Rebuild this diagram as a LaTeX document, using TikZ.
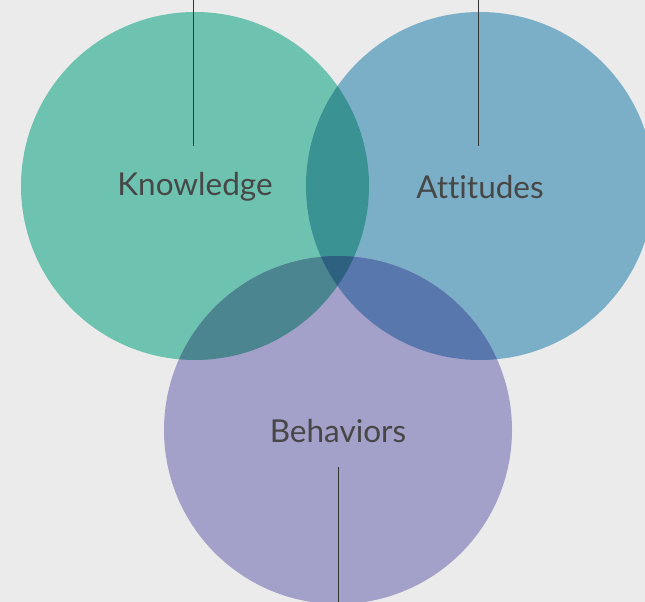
\documentclass[tikz,border=0pt]{standalone}
\usepackage{fontspec}
\setmainfont{Lato}[Ligatures=NoCommon]
\definecolor{bgc}{HTML}{EBEBEB}
\definecolor{know}{HTML}{6DC3B0}
\definecolor{att}{HTML}{7BAFC8}
\definecolor{beh}{HTML}{A3A0C9}
\definecolor{ka}{HTML}{3A9292}
\definecolor{kb}{HTML}{4A8590}
\definecolor{ab}{HTML}{5777AD}
\definecolor{kab}{HTML}{2E6180}
\definecolor{txt}{HTML}{474747}
\definecolor{lead}{HTML}{333333}
\begin{document}
\begin{tikzpicture}[x=1pt,y=-1pt,
  label/.style={text=txt,font=\fontsize{31.5}{36}\selectfont},
  leader/.style={draw=lead,line width=1pt}]
\useasboundingbox (0,0) rectangle (645,602);
\fill[bgc] (0,0) rectangle (645,602);
% the three sets
\def\R{174}
\coordinate (K) at (195,186);
\coordinate (A) at (480,186);
\coordinate (B) at (338,430);
\begin{scope}
\clip (0,0) rectangle (645,602);
\fill[know] (K) circle[radius=\R];
\fill[att] (A) circle[radius=\R];
\fill[beh] (B) circle[radius=\R];
% pairwise overlaps
\begin{scope}\clip (K) circle[radius=\R]; \fill[ka] (A) circle[radius=\R];\end{scope}
\begin{scope}\clip (K) circle[radius=\R]; \fill[kb] (B) circle[radius=\R];\end{scope}
\begin{scope}\clip (A) circle[radius=\R]; \fill[ab] (B) circle[radius=\R];\end{scope}
% common region
\begin{scope}\clip (K) circle[radius=\R]; \clip (A) circle[radius=\R]; \fill[kab] (B) circle[radius=\R];\end{scope}
\end{scope}
% labels
\node[label] (kn) at (195,187) {Knowledge};
\node[label] (at) at (480,187) {Attitudes};
\node[label] (be) at (338,431) {Behaviors};
% leader lines
\coordinate (k0) at (193,0);   \coordinate (k1) at (193,146);
\coordinate (a0) at (478,0);   \coordinate (a1) at (478,146);
\coordinate (b0) at (338,467); \coordinate (b1) at (338,602);
\draw[leader] (k0) -- (k1);
\draw[leader] (a0) -- (a1);
\draw[leader] (b0) -- (b1);
\end{tikzpicture}
\end{document}
